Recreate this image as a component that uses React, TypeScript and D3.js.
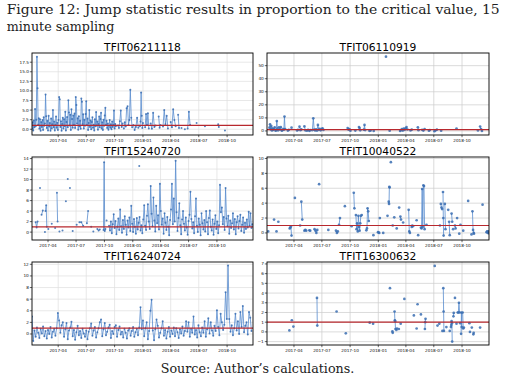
import React from 'react';
import * as d3 from 'd3';

// Run = [start day since 2017-01-01, step in days, values]; points in a run are joined by a line
type Run = [number, number, number[]];

const captionLine1 = 'Figure 12: Jump statistic results in proportion to the critical value, 15';
const captionLine2 = 'minute sampling';
const sourceText = 'Source: Author\u2019s calculations.';

const panelTitles = ['TFIT06211118', 'TFIT06110919', 'TFIT15240720', 'TFIT10040522', 'TFIT16240724', 'TFIT16300632'];
const xTickLabels = ['2017-04', '2017-07', '2017-10', '2018-01', '2018-04', '2018-07', '2018-10'];
const criticalLevel = 1;

const yTicks1 = [0, 2.5, 5, 7.5, 10, 12.5, 15, 17.5];
const yTicks2 = [0, 10, 20, 30, 40, 50];
const yTicks3 = [0, 2, 4, 6, 8, 10, 12, 14];
const yTicks4 = [0, 2, 4, 6, 8, 10];
const yTicks5 = [0, 2, 4, 6, 8, 10, 12];
const yTicks6 = [-1, 0, 1, 2, 3, 4, 5, 6, 7];

const tfit06211118: Run[] = [
  [5, 2, [0.2,1.8,-0.3,2.3,0.5,5.3,0.8,2.5,18.9,10.7,1.2,2.9,0.1,2.6,-0.4,1.9,0.6,2.4,-0.2,3.1,0.9,1.5,9.1,3.4,0.3,2.2,-0.3,3.5,0.7,1.6,-0.4,2.8,0.2,1.3,5.0,0.5,2.0,-0.3,1.1,3.3,0.4,1.7,-0.2,2.4,8.4,7.8,0.6,2.1,-0.4,1.4,3.0,0.2,2.6,0.8,4.6,-0.3,1.9,3.2,0.5,7.6,4.4,1.0,3.8,-0.2,5.2,2.7,0.4,3.6,1.2,4.1,0.3,8.4,6.3,1.5,2.9,-0.1,3.4,0.7,2.2,0.1,8.0,7.2,1.3,3.9,0.2,2.5,0.9,4.0,7.3,1.1,2.8,-0.2,1.6,5.0,0.6,2.3,0.0,1.9,3.1,0.4,1.2,-0.3,2.6,0.8,4.5,1.0,2.0,-0.1,1.4,3.3,0.5,2.7,4.3,0.2,1.8,-0.2,2.5,0.9,3.6,5.6,1.2,2.2,0.3,1.5,-0.1,0.9,2.4,0.4,1.3,0.0,2.0,0.6,1.1,4.9,0.2,1.4,0.8]],
  [284, 3, [1.0, 0.3, 2.1, 4.9, 0.6, 1.5]],
  [303, 3, [0.2, 1.8, 0.7, 5.5, 6.0, 1.2, 2.4, 10.3, 3.0, 0.5]],
  [334, 4, [1.1, -0.2, 0.6, 3.0, 0.4]],
  [355, 2, [0.8, 2.0, 9.6, 3.5, 0.3, 1.6]],
  [372, 3, [0.5, 4.0, 1.2, 4.2, 0.2]],
  [390, 4, [1.5, 0.1, 4.3, 0.6, 1.0]],
  [416, 3, [3.3, 0.4, 1.1]],
  [430, 4, [0.7, 5.0, 1.3, 3.5, 0.2]],
  [455, 4, [1.9, 0.5, 5.2, 2.4, 0.8]],
  [479, 3, [3.8, 0.3]],
  [490, 1, [0.3]],
  [501, 1, [0.0]],
  [510, 4, [0.2, 4.6, 1.1]],
  [539, 1, [1.6]],
  [566, 1, [0.8]],
  [609, 2, [1.3, 0.6]],
  [631, 1, [-0.3]],
];

const tfit06110919: Run[] = [
  [10, 2, [2.5, 5.1, 1.2, 3.8, 0.4, 2.0, 0.8]],
  [24, 3, [1.3, 2.7, 0.2]],
  [32, 2, [0.6, 7.6, 1.8, 0.5]],
  [41, 3, [2.7, 1.1, 2.9, 0.3]],
  [52, 3, [0.5, 1.4]],
  [57, 2, [1.0, 11.0, 1.5]],
  [70, 3, [0.3, 0.8]],
  [82, 1, [2.5]],
  [100, 3, [0.4, 0.9]],
  [108, 3, [3.3, 0.6, 1.2]],
  [124, 3, [3.5, 0.5]],
  [132, 4, [0.2, 0.8, 0.1, 0.6]],
  [150, 3, [0.7, 9.7, 1.0, 0.4]],
  [162, 3, [1.3, 0.3, 4.6, 0.9, 1.6, 0.5, 1.5, 2.0, 0.8]],
  [265, 3, [2.2, 1.0, 1.5, 0.2]],
  [290, 1, [0.3]],
  [302, 2, [3.0, 2.2, 0.5]],
  [318, 2, [1.0, 4.6, 0.7]],
  [336, 4, [0.1, 0.3]],
  [350, 1, [0.0]],
  [390, 1, [56.9]],
  [402, 1, [0.2]],
  [436, 3, [0.0, 0.6, 1.4, 0.3, 1.8, 0.9, 2.0, 3.0, 1.1]],
  [470, 4, [0.4, 1.0]],
  [494, 2, [2.8, 0.6]],
  [508, 4, [0.9, 0.3, 1.4]],
  [530, 3, [0.2, 0.7]],
  [548, 4, [-0.2, 0.5, 1.0]],
  [570, 1, [0.2]],
  [620, 1, [1.8]],
  [690, 1, [0.4]],
  [697, 3, [3.4, 1.5, 0.0]],
];

const tfit15240720: Run[] = [
  [50, 3, [1.9, 0.9, 2.0]],
  [64, 1, [8.4]],
  [69, 4, [3.3, 4.1]],
  [80, 1, [0.0]],
  [82, 2, [4.0, 5.1, 1.0]],
  [91, 1, [0.6]],
  [102, 1, [1.6]],
  [113, 1, [0.8]],
  [119, 2, [7.5, 2.0]],
  [127, 1, [0.1]],
  [137, 1, [0.3]],
  [148, 1, [5.9]],
  [154, 1, [10.1]],
  [161, 1, [8.4]],
  [170, 1, [0.2]],
  [183, 1, [1.4]],
  [192, 6, [1.9, 1.9, 1.2]],
  [216, 4, [1.7, 4.0]],
  [230, 1, [1.0]],
  [237, 1, [0.1]],
  [250, 4, [0.6, 0.3, 0.5]],
  [270, 2, [0.4, 13.3, 0.2, 0.6]],
  [280, 1, [2.2]],
  [386, 1, [12.6]],
  [288, 3, [1.2,0.3,2.0,-0.2,1.5,3.4,0.8,2.1,-0.4,1.0,2.6,0.4,4.3,1.1,-0.1,2.3,0.6,3.0,1.4,-0.5,2.2,0.9,2.8,0.2,5.0,1.6,0.0,2.5,1.0,-0.3,2.7,0.5,1.8,2.9,0.3,1.3,-0.2,2.4,5.1,1.2,0.4,3.1,5.3,2.0,0.6,8.8,3.5,1.1,6.6,2.2,0.1,5.0,1.7,3.2,0.5,9.2,4.0,1.4,2.6,-0.3,3.6,1.8,0.4,2.9,1.0,-0.6,2.3,4.3,9.2,1.5,6.4,2.0,13.6,3.8,0.2,2.7,5.5,1.3,-0.4,2.4,4.0,1.6,0.3,2.8,0.9,-0.5,2.1,3.3,7.7,2.5,0.7,1.9,-0.2,3.0,6.4,1.2,0.0,2.6,1.4,-0.6,3.6,1.7,0.5,2.3,0.1,4.0,1.9,-0.4,2.7,4.1,1.0,0.3,2.4,-0.5,1.6,3.2,0.6,2.0,-0.2,1.3,9.0,3.8,4.7,1.5,2.9,0.4,8.4,2.6,1.1,3.1,-0.3,2.2,0.8,1.7,3.6,0.5,2.5,-0.4,1.9,3.0,0.7,2.1,3.3,0.2,1.4,2.8,-0.1,1.8,0.6,2.4,0.9,3.9,1.2,3.6,0.8,1.5]],
];

const tfit10040522: Run[] = [
  [6, 1, [0.2]],
  [25, 1, [1.8]],
  [33, 1, [0.2]],
  [39, 1, [1.5]],
  [76, 2, [0.6, 0.7, 0.85, -0.35]],
  [93, 1, [4.7]],
  [110, 1, [1.0]],
  [114, 3, [4.2, 1.8]],
  [124, 3, [0.3, 0.4, 0.3]],
  [140, 3, [0.35, 0.3]],
  [157, 3, [0.5, 0.3, 0.0, 0.4]],
  [172, 1, [6.55]],
  [202, 1, [0.4]],
  [227, 3, [0.3, 0.0, 0.2]],
  [237, 3, [1.1, 2.0]],
  [256, 1, [3.6]],
  [278, 1, [0.9]],
  [285, 2, [5.4, 3.3]],
  [292, 2, [2.4, 0.5, 1.3, 0.2, 2.3, 0.8, 0.3, 1.3, 2.3]],
  [311, 1, [2.4]],
  [326, 2, [0.35, 0.6, 3.3, 2.9, 1.6]],
  [349, 1, [-0.3]],
  [364, 2, [0.1, 0.05, 0.0]],
  [370, 1, [2.0]],
  [381, 1, [0.0]],
  [395, 1, [2.3]],
  [399, 1, [4.2, 3.9, 6.2, 6.1]],
  [406, 1, [9.5]],
  [412, 1, [1.0]],
  [417, 1, [2.1]],
  [425, 1, [0.6]],
  [433, 1, [3.4]],
  [437, 2, [2.2, 1.8]],
  [446, 1, [1.4]],
  [464, 2, [3.1, 0.2, 0.0]],
  [474, 2, [0.8, 1.0, 0.9]],
  [490, 1, [1.7]],
  [495, 1, [-0.3]],
  [504, 2, [0.7, 0.6, 5.9, 0.8, 6.4, 6.3, 0.5]],
  [522, 1, [1.1]],
  [566, 1, [1.0]],
  [569, 2, [3.9, 3.4, 3.2]],
  [576, 1, [5.5, 2.0, -0.35]],
  [582, 2, [3.9, 0.5]],
  [593, 1, [3.1]],
  [596, 2, [1.5, -0.3]],
  [604, 2, [2.6, 1.5]],
  [609, 1, [0.5]],
  [615, 2, [1.0, 0.6]],
  [622, 1, [2.0]],
  [629, 1, [-0.1]],
  [633, 1, [1.1]],
  [642, 1, [0.3]],
  [658, 1, [4.3]],
  [669, 1, [-0.2]],
  [672, 2, [2.9, 0.4, 0.0]],
  [677, 1, [-0.1]],
  [705, 1, [3.8]],
  [718, 2, [0.1, 0.2, 0.0, 0.2, -0.05]],
];

const tfit16240724: Run[] = [
  [5, 4, [3.0,-1.2,0.6,-0.5,1.1,0.2,-0.7,0.9,0.1,1.3,-0.4,0.5,-0.8,0.7,0.0,1.2,-0.6,0.4,0.9,-0.3,1.0,3.6,2.3,0.2,1.5,2.0,-0.5,0.8,1.9,-0.9,0.6,1.1,2.1,-0.4,0.7,-1.0,0.3,1.4,-0.2,0.5,-0.7,0.9,0.1,-0.5,0.6,-0.9,0.4,1.0,1.8,-0.3,0.6,1.2,-0.6,0.3,1.0,2.0,2.5,-0.4,0.8,1.9,-0.2,0.4,1.1,1.6,-0.7,0.5,0.0,1.2,1.5,-0.5,0.7,1.3,-0.1,0.4,-0.6,0.9,0.2,-0.8,0.6,1.0,-0.3,0.5,1.2,-0.5,0.3,0.9,-0.2,1.1,4.6,0.8,2.3,-0.4,1.0,2.0,-0.9,0.5,4.0,5.9,0.6,-1.1,0.8,2.5,1.4,-0.6,0.2,1.0,2.2,-0.3,0.7,-0.8,0.4,1.2,-0.5,0.6,0.0,1.1,-0.4,1.0,0.3,-0.7,0.8,0.1,1.3,-0.3,0.5,2.2,0.4,2.0,-0.5,0.9,0.2,3.0,-0.1,0.7,-0.6,1.5,0.3,-0.4,1.1,0.2,2.2,-0.5,0.8,2.7,0.1,2.0,0.6,-0.3,1.4,0.5,4.1,1.2,-0.2,3.5,2.0,0.7,1.6,7.2,2.6,11.8,2.6,0.4,1.5,-0.2,1.0,3.5,0.6,2.2,0.0,3.8,1.2,4.8,0.3,1.4,2.0,-0.1,3.8,2.8,0.5]],
];

const tfit16300632: Run[] = [
  [75, 1, [0.15]],
  [83, 1, [1.2]],
  [88, 1, [0.55]],
  [165, 1, [3.5, 0.65]],
  [229, 1, [2.1]],
  [259, 1, [-0.15]],
  [337, 1, [0.95]],
  [348, 1, [0.85]],
  [403, 1, [4.5]],
  [411, 1, [0.05, -0.1]],
  [418, 1, [2.1, 1.2, 1.1, 0.3]],
  [424, 2, [0.2, 0.35]],
  [432, 1, [0.3]],
  [438, 1, [0.85]],
  [450, 1, [3.4]],
  [481, 1, [1.7]],
  [490, 1, [0.35]],
  [493, 1, [2.85]],
  [504, 1, [1.8]],
  [517, 1, [0.3, 1.0, 1.35]],
  [549, 1, [6.8]],
  [558, 1, [0.65]],
  [564, 1, [0.85]],
  [574, 1, [0.1]],
  [577, 1, [4.5, 2.1, 0.1]],
  [587, 1, [0.5]],
  [598, 1, [0.1]],
  [602, 1, [0.5, 0.7, 1.1, 0.9, -1.0]],
  [610, 1, [1.6, 1.95]],
  [615, 1, [3.5]],
  [620, 1, [0.85]],
  [624, 2, [2.0, 2.0, 3.0, 2.0]],
  [632, 1, [0.9]],
  [635, 1, [-0.2, 2.0, 0.5]],
  [640, 2, [2.0, 0.35, 0.45]],
  [662, 1, [0.9]],
  [664, 1, [0.0]],
  [670, 1, [0.45]],
  [675, 1, [-0.25, -0.1]],
  [697, 1, [0.45]],
];

const BASE = Date.UTC(2017, 0, 1);
const dayToDate = (d: number) => new Date(BASE + d * 86400000);
const parseMonth = d3.utcParse('%Y-%m');

const cols = [[32, 253], [267, 489]];
const rows = [[53, 135], [157, 240], [262, 345]];

interface PanelCfg {
  title: string; runs: Run[]; xDays: [number, number]; yDom: [number, number];
  yTicks: number[]; fmt: string; col: number; row: number; dense: boolean;
}

const panels: PanelCfg[] = [
  { title: panelTitles[0], runs: tfit06211118, xDays: [5, 722], yDom: [-1.5, 19.9], yTicks: yTicks1, fmt: '.1f', col: 0, row: 0, dense: true },
  { title: panelTitles[1], runs: tfit06110919, xDays: [2, 726], yDom: [-3.1, 59.7], yTicks: yTicks2, fmt: 'd', col: 1, row: 0, dense: false },
  { title: panelTitles[2], runs: tfit15240720, xDays: [38, 755], yDom: [-1.5, 14.3], yTicks: yTicks3, fmt: 'd', col: 0, row: 1, dense: true },
  { title: panelTitles[3], runs: tfit10040522, xDays: [2, 726], yDom: [-0.95, 10.2], yTicks: yTicks4, fmt: 'd', col: 1, row: 1, dense: false },
  { title: panelTitles[4], runs: tfit16240724, xDays: [5, 722], yDom: [-1.9, 12.4], yTicks: yTicks5, fmt: 'd', col: 0, row: 2, dense: true },
  { title: panelTitles[5], runs: tfit16300632, xDays: [2, 726], yDom: [-1.35, 7.2], yTicks: yTicks6, fmt: 'd', col: 1, row: 2, dense: false },
];

const tickFont = 'DejaVu Sans, sans-serif';

function Panel({ cfg, idx }: { cfg: PanelCfg; idx: number }) {
  const [x0, x1] = cols[cfg.col];
  const [y0, y1] = rows[cfg.row];
  const x = d3.scaleUtc().domain([dayToDate(cfg.xDays[0]), dayToDate(cfg.xDays[1])]).range([x0, x1]);
  const y = d3.scaleLinear().domain(cfg.yDom).range([y1, y0]);
  const fmt = d3.format(cfg.fmt);
  const xt = xTickLabels.map((l) => ({ l, d: parseMonth(l) as Date })).filter((t) => {
    const px = x(t.d);
    return px >= x0 && px <= x1;
  });
  const line = d3.line<[number, number]>().x((p) => x(dayToDate(p[0]))).y((p) => y(p[1]));
  const clipId = `clip${idx}`;
  const pts: [number, number][] = [];
  const paths: string[] = [];
  cfg.runs.forEach(([start, step, vals]) => {
    const seg = vals.map((v, i) => [start + i * step, v] as [number, number]);
    seg.forEach((p) => pts.push(p));
    if (seg.length > 1) paths.push(line(seg) as string);
  });
  const gridColor = cfg.dense ? '#dedede' : '#cbcbcb';
  const r = cfg.dense ? 1.0 : 1.35;
  return (
    <g>
      <defs>
        <clipPath id={clipId}>
          <rect x={x0} y={y0} width={x1 - x0} height={y1 - y0} />
        </clipPath>
      </defs>
      <text x={(x0 + x1) / 2} y={y0 - 2} textAnchor="middle" fontFamily={tickFont} fontSize={10.7} fill="#000">{cfg.title}</text>
      {xt.map((t) => (
        <line key={'gx' + t.l} x1={x(t.d)} x2={x(t.d)} y1={y0} y2={y1} stroke={gridColor} strokeWidth={0.7} />
      ))}
      {cfg.yTicks.map((v) => (
        <line key={'gy' + v} x1={x0} x2={x1} y1={y(v)} y2={y(v)} stroke={gridColor} strokeWidth={0.7} />
      ))}
      <g clipPath={`url(#${clipId})`}>
        {paths.map((d, i) => (
          <path key={'p' + i} d={d} fill="none" stroke="#5a8dcf" strokeWidth={cfg.dense ? 0.9 : 0.9} strokeOpacity={0.9} />
        ))}
        {pts.map((p, i) => (
          <circle key={'c' + i} cx={x(dayToDate(p[0]))} cy={y(p[1])} r={r} fill="#3a6db2" fillOpacity={0.85} />
        ))}
        <line x1={x0} x2={x1} y1={y(criticalLevel)} y2={y(criticalLevel)} stroke="#b8282e" strokeWidth={1.2} />
      </g>
      <rect x={x0} y={y0} width={x1 - x0} height={y1 - y0} fill="none" stroke="#000" strokeWidth={0.9} />
      {xt.map((t) => (
        <g key={'tx' + t.l}>
          <line x1={x(t.d)} x2={x(t.d)} y1={y1} y2={y1 + 2.2} stroke="#000" strokeWidth={0.6} />
          <text x={x(t.d)} y={y1 + 6.5} textAnchor="middle" fontFamily={tickFont} fontSize={4.2} fill="#111">{t.l}</text>
        </g>
      ))}
      {cfg.yTicks.map((v) => (
        <g key={'ty' + v}>
          <line x1={x0 - 2.2} x2={x0} y1={y(v)} y2={y(v)} stroke="#000" strokeWidth={0.6} />
          <text x={x0 - 3.2} y={y(v)} dy="0.35em" textAnchor="end" fontFamily={tickFont} fontSize={4.2} fill="#111">{fmt(v)}</text>
        </g>
      ))}
    </g>
  );
}

export default function App() {
  const serif = 'DejaVu Serif, serif';
  return (
    <div style={{ position: 'absolute', left: 0, top: 0 }}>
      <svg width={510} height={380} viewBox="0 0 510 380" style={{ display: 'block', background: '#fff' }}>
        <rect width={510} height={380} fill="#fff" />
        <text x={6.7} y={14} fontFamily={serif} fontSize={12.7} fill="#222" textLength={493} lengthAdjust="spacingAndGlyphs">{captionLine1}</text>
        <text x={6.7} y={30.5} fontFamily={serif} fontSize={12.7} fill="#222">{captionLine2}</text>
        {panels.map((p, i) => (
          <Panel key={p.title} cfg={p} idx={i} />
        ))}
        <text x={257.5} y={373} textAnchor="middle" fontFamily={serif} fontSize={12.7} fill="#222">{sourceText}</text>
      </svg>
    </div>
  );
}
